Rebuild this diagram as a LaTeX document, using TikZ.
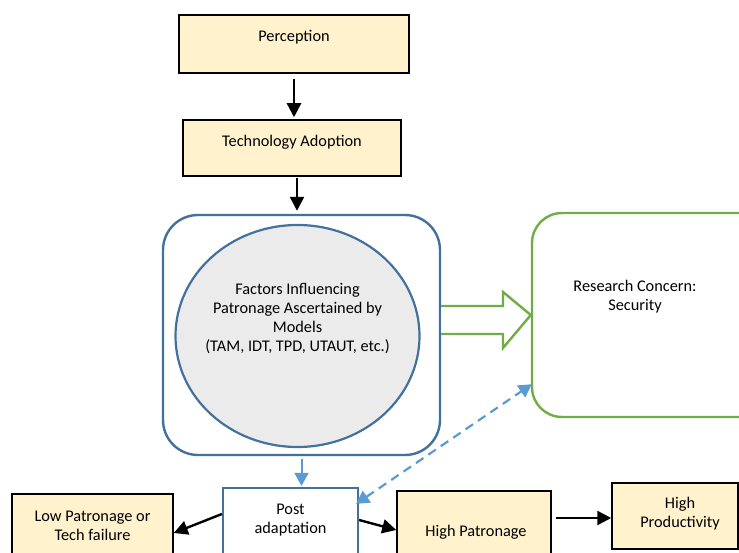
\documentclass[tikz,border=0pt]{standalone}
\usepackage{fontspec}
\setmainfont{Carlito}
\usetikzlibrary{calc,arrows.meta,shapes.geometric}
\definecolor{cream}{HTML}{FFF2CC}
\definecolor{dblue}{HTML}{41719C}
\definecolor{lblue}{HTML}{5B9BD5}
\definecolor{lgreen}{HTML}{70AD47}
\definecolor{lgray}{HTML}{EBEBEB}
\tikzset{
  cbox/.style={draw=black, line width=1.5pt, fill=cream, inner sep=0pt},
  txt/.style={font=\fontsize{16.3}{19}\selectfont, align=center, inner sep=0pt},
  arr/.style={-{Triangle[length=14pt,width=14pt]}, line width=2.4pt, black},
  barr/.style={-{Triangle[length=13pt,width=14pt]}, line width=2pt, lblue},
}
\begin{document}
\begin{tikzpicture}[x=1pt,y=-1pt]
\useasboundingbox (0,0) rectangle (739,553);
\clip (0,0) rectangle (739,553);
% top boxes
\node[cbox, minimum width=230pt, minimum height=58pt] (perc) at (294,44) {};
\node[txt] at (294,37) {Perception};
\node[cbox, minimum width=218pt, minimum height=56pt] (tech) at (292,148) {};
\node[txt] at (292,142) {Technology Adoption};
% big box
\node[draw=dblue, line width=2.4pt, rounded corners=35pt, minimum width=277pt, minimum height=240pt, inner sep=0pt] (big) at (301.5,335) {};
\node[draw=dblue, line width=2.2pt, fill=lgray, ellipse, minimum width=244pt, minimum height=222pt, inner sep=0pt] (circ) at (297.5,336) {};
\node[txt] at (297.5,318.5) {Factors Influencing\\Patronage Ascertained by\\Models\\(TAM, IDT, TPD, UTAUT, etc.)};
% security box
\node[draw=lgreen, line width=2.4pt, rounded corners=30pt, minimum width=238pt, minimum height=204pt, inner sep=0pt] (sec) at (651,315) {};
\node[txt] at (635,297) {Research Concern:\\Security};
% green block arrow
\draw[lgreen, line width=2.4pt, fill=white, line join=miter]
  ($(big.east)+(0,-29)$) -- (503,306) -- (503,292) -- (sec.west) -- (503,348) -- (503,334) -- ($(big.east)+(0,-1)$);
% bottom boxes
\node[cbox, minimum width=161pt, minimum height=62pt] (low) at (92.5,525) {};
\node[txt] at (92.5,525.5) {Low Patronage or\\Tech failure};
\node[draw=dblue, line width=2.2pt, fill=white, minimum width=135pt, minimum height=68pt, inner sep=0pt] (post) at (290.5,522) {};
\node[txt] at (290.5,520) {Post\\adaptation};
\node[cbox, minimum width=154pt, minimum height=82pt] (hp) at (474,532) {};
\node[txt] at (476,532) {High Patronage};
\node[cbox, minimum width=126pt, minimum height=66pt] (prod) at (675,516) {};
\node[txt] at (680,513.5) {High\\Productivity};
% connectors
\draw[arr, shorten <=5pt, shorten >=2pt] (perc.south) -- (perc.south |- tech.north);
\draw[arr, shorten <=1pt, shorten >=3pt] ([xshift=5pt]tech.south) -- ([xshift=5pt]tech.south |- big.north);
\draw[barr, shorten <=3pt, shorten >=1pt] (big.south) -- (big.south |- post.north);
\draw[barr, line width=2.2pt, {Triangle[length=13pt,width=14pt]}-{Triangle[length=13pt,width=14pt]}, dash pattern=on 9pt off 6pt]
  ($(post.north east)+(-3,17)$) -- ($(sec.south west)+(1,-34)$);
\draw[arr] ([yshift=8pt]post.west) -- ([yshift=-8pt]low.east);
\draw[arr] ([yshift=2pt]post.east) -- ([yshift=2pt]hp.west);
\draw[arr, shorten <=4pt] ([yshift=14pt]hp.east) -- ([yshift=14pt]hp.east -| prod.west);
\end{tikzpicture}
\end{document}
